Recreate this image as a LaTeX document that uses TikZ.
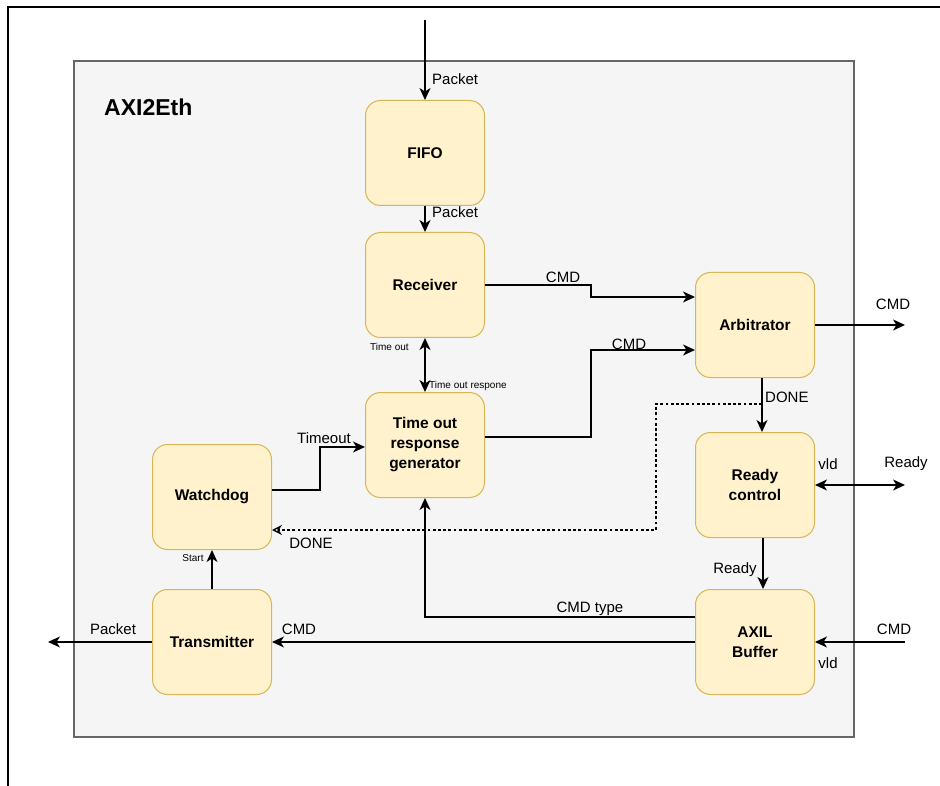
\documentclass[tikz,border=0pt]{standalone}
\usepackage{fontspec}
\setmainfont{Liberation Sans}
\usetikzlibrary{arrows.meta}
\definecolor{blockfill}{HTML}{FFF2CC}
\definecolor{blockline}{HTML}{D6B656}
\definecolor{outerfill}{HTML}{F5F5F5}
\definecolor{outerline}{HTML}{666666}
\tikzset{
  block/.style={draw=blockline, fill=blockfill, line width=1pt, rounded corners=15pt,
    minimum width=119pt, minimum height=105pt, align=center,
    font=\fontsize{15.5}{20}\selectfont\bfseries},
  lbl/.style={font=\fontsize{15}{18}\selectfont, inner sep=0pt},
  small/.style={font=\fontsize{10}{12}\selectfont, inner sep=0pt},
  conn/.style={line width=1.3pt, -{Stealth[length=12pt,width=11pt,inset=3.5pt]}},
  twoway/.style={line width=1.3pt, {Stealth[length=12pt,width=11pt,inset=3.5pt]}-{Stealth[length=12pt,width=11pt,inset=3.5pt]}},
  doneline/.style={line width=2.8pt, dash pattern=on 2.8pt off 2.4pt,
    -{Stealth[open,line width=1.3pt,length=10pt,width=10pt]}}
}
\begin{document}
\begin{tikzpicture}[x=1pt,y=-1pt]
                \useasboundingbox (0,0) rectangle (940,786);
                \draw [line width=1.5pt] (940,7) -- (8,7) -- (8,786);
                \draw [fill=outerfill, draw=outerline, line width=1.5pt] (74,61) rectangle (854,737);
                \node [anchor=west, inner sep=0pt, font=\fontsize{23}{26}\selectfont\bfseries] (title) at (104,107) {AXI2Eth};
                \node [block] (fifo) at (425,153) {FIFO};
                \node [block] (rcv) at (425,285) {Receiver};
                \node [block] (torg) at (425,445) {Time out\\response\\generator};
                \node [block] (arb) at (755,325) {Arbitrator};
                \node [block] (rdy) at (755,485) {Ready\\control};
                \node [block] (axil) at (755,642) {AXIL\\Buffer};
                \node [block] (wd) at (212,497) {Watchdog};
                \node [block] (tx) at (212,642) {Transmitter};
                \coordinate (pktin) at (425,20);
                \coordinate (cmdout) at (905,325);
                \coordinate (rdyio) at (905,485);
                \coordinate (cmdin) at (905,642);
                \coordinate (pktout) at (48,642);
                \coordinate (donebend) at (656,404);
                \draw [conn] (pktin) -- (fifo.north);
                \draw [conn] (fifo) -- (rcv);
                \draw [twoway] (rcv) -- (torg);
                \draw [conn] (rcv.east) -- ++(106,0) |- ([yshift=28pt]arb.west);
                \draw [conn] ([yshift=8pt]torg.east) -- ++(106,0) |- ([yshift=-25pt]arb.west);
                \draw [conn] (arb.east) -- (cmdout);
                \draw [conn] ([xshift=7pt]arb.south) -- ([xshift=7pt]rdy.north);
                \draw [doneline] ([xshift=7pt]arb.south) |- (donebend) |- ([yshift=-33pt]wd.east);
                \draw [twoway] (rdy.east) -- (rdyio);
                \draw [conn] ([xshift=8pt]rdy.south) -- ([xshift=8pt]axil.north);
                \draw [conn] ([yshift=25pt]axil.west) -| (torg.south);
                \draw [conn] (axil.west) -- (tx.east);
                \draw [conn] (cmdin) -- (axil.east);
                \draw [conn] (tx.west) -- (pktout);
                \draw [conn] (tx) -- (wd);
                \draw [conn] ([yshift=7pt]wd.east) -- ++(48,0) |- ([yshift=-2pt]torg.west);
                \node [lbl, anchor=west] (pktinlbl) at (432,79) {Packet};
                \node [lbl, anchor=west] (pktlbl) at (432,212) {Packet};
                \node [small, anchor=west] (tolbl) at (370,347) {Time out};
                \node [small, anchor=west] (torlbl) at (429,386) {Time out respone};
                \node [lbl] (cmdalbl) at (563,277) {CMD};
                \node [lbl] (cmdblbl) at (629,344) {CMD};
                \node [lbl] (cmdoutlbl) at (893,304) {CMD};
                \node [lbl, anchor=west] (donealbl) at (765,397) {DONE};
                \node [lbl] (vldalbl) at (828,464) {vld};
                \node [lbl] (rdyiolbl) at (906,464) {Ready};
                \node [lbl] (rdylbl) at (735,570) {Ready};
                \node [lbl] (cmdinlbl) at (894,629) {CMD};
                \node [lbl] (vldblbl) at (828,663) {vld};
                \node [lbl] (typelbl) at (590,609) {CMD type};
                \node [lbl] (cmdtxlbl) at (299,629) {CMD};
                \node [lbl] (pktoutlbl) at (113,629) {Packet};
                \node [small] (startlbl) at (193,558) {Start};
                \node [lbl] (donewdlbl) at (311,543) {DONE};
                \node [lbl] (tmolbl) at (324,438) {Timeout};
            \end{tikzpicture}
\end{document}
